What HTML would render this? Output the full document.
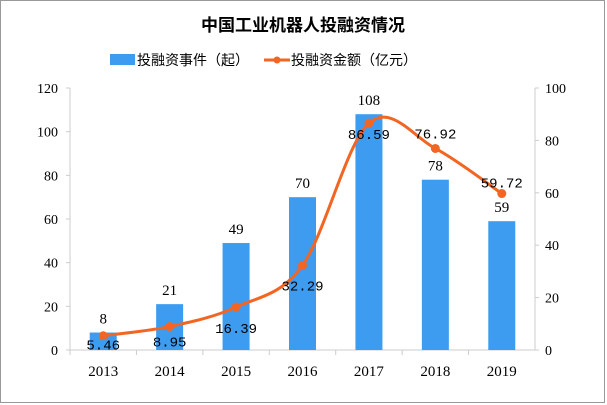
<!DOCTYPE html>
<html><head><meta charset="utf-8"><style>
body{margin:0;background:#fff;}
svg{display:block;font-family:"Liberation Serif","Noto Serif CJK SC",serif;}
</style></head><body>
<svg id="c" width="607" height="405">
<rect x="0.5" y="0.5" width="604" height="402" fill="#fff" stroke="#999"/>
<text x="303" y="31" text-anchor="middle" font-size="17" font-weight="bold" font-family="'Liberation Sans','Noto Sans CJK SC',sans-serif">中国工业机器人投融资情况</text>
<g>
<rect x="110" y="54" width="25" height="11" fill="#3e9cf0"/>
<text x="137" y="65" font-size="14" font-family="'Liberation Sans','Noto Sans CJK SC',sans-serif">投融资事件（起）</text>
<line x1="264" y1="60" x2="290" y2="60" stroke="#f26522" stroke-width="3"/>
<circle cx="277" cy="60" r="3.5" fill="#f26522"/>
<text x="291" y="65" font-size="14" font-family="'Liberation Sans','Noto Sans CJK SC',sans-serif">投融资金额（亿元）</text>
</g>
<g id="plot"></g>
</svg>
<script>
const categories=["2013","2014","2015","2016","2017","2018","2019"];
const events=[8,21,49,70,108,78,59];
const amounts=[5.46,8.95,16.39,32.29,86.59,76.92,59.72];
const leftTicks=[0,20,40,60,80,100,120];
const rightTicks=[0,20,40,60,80,100];
const L=70,R=535,T=88,B=350;
const ns="http://www.w3.org/2000/svg";
const g=document.getElementById('plot');
function el(t,a,txt){const e=document.createElementNS(ns,t);for(const k in a)e.setAttribute(k,a[k]);if(txt!=null)e.textContent=txt;g.appendChild(e);return e;}
const step=(R-L)/categories.length;
const xc=i=>L+step*(i+0.5);
const yL=v=>B-(v/120)*(B-T);
const yR=v=>B-(v/100)*(B-T);
let e;
e=el('line',{x1:L,y1:T,x2:L,y2:B,stroke:'#ccc'});


e=el('line',{x1:R,y1:T,x2:R,y2:B,stroke:'#ccc'});


e=el('line',{x1:L,y1:B,x2:R,y2:B,stroke:'#ccc'});


leftTicks.forEach(v=>{el('line',{x1:L-4,y1:yL(v),x2:L,y2:yL(v),stroke:'#ccc'});
e=el('text',{x:L-12,y:yL(v)+5,'text-anchor':'end','font-size':14},v);

});
rightTicks.forEach(v=>{el('line',{x1:R,y1:yR(v),x2:R+4,y2:yR(v),stroke:'#ccc'});
e=el('text',{x:R+10,y:yR(v)+5,'font-size':14},v);

});
categories.forEach((c,i)=>{
el('line',{x1:L+step*i,y1:B,x2:L+step*i,y2:B+5,stroke:'#ccc'});
e=el('text',{x:xc(i),y:B+26,'text-anchor':'middle','font-size':15},c);


const bw=27;
e=el('rect',{x:xc(i)-bw/2,y:yL(events[i]),width:bw,height:B-yL(events[i]),fill:'#3e9cf0'});


e=el('text',{x:xc(i),y:yL(events[i])-9,'text-anchor':'middle','font-size':15},events[i]);


});
const pts=amounts.map((v,i)=>[xc(i),yR(v)]);
let d='M'+pts[0][0]+','+pts[0][1];
for(let i=0;i<pts.length-1;i++){const p0=pts[Math.max(0,i-1)],p1=pts[i],p2=pts[i+1],p3=pts[Math.min(pts.length-1,i+2)];
const k=1/6;d+=` C${p1[0]+(p2[0]-p0[0])*k},${p1[1]+(p2[1]-p0[1])*k} ${p2[0]-(p3[0]-p1[0])*k},${p2[1]-(p3[1]-p1[1])*k} ${p2[0]},${p2[1]}`;}
e=el('path',{d:d,fill:'none',stroke:'#f26522','stroke-width':3});


const off=[[0,9],[0,15],[0,21],[0,20],[0,11],[0,-15],[0,-11]];
pts.forEach((p,i)=>{
e=el('circle',{cx:p[0],cy:p[1],r:4.5,fill:'#f26522'});


e=el('text',{x:p[0]+off[i][0],y:p[1]+off[i][1]+5,'text-anchor':'middle','font-size':14,'font-family':'Liberation Mono,monospace'},amounts[i].toFixed(2));


});
</script>
</body></html>
